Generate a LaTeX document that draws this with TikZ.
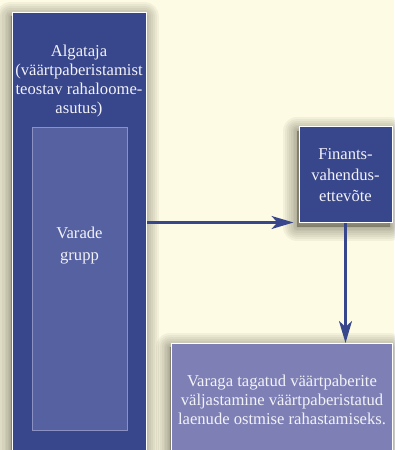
\documentclass[tikz,border=0pt]{standalone}
\usepackage{fontspec}
\setmainfont{Liberation Serif}
\usetikzlibrary{arrows.meta,calc,positioning}
\definecolor{paper}{HTML}{FDFBE3}
\definecolor{navy}{HTML}{38468B}
\definecolor{poolfill}{HTML}{5661A1}
\definecolor{poolline}{HTML}{8C91C3}
\definecolor{resultfill}{HTML}{7E80B5}
\definecolor{inktext}{HTML}{F2F2F8}
\definecolor{shade}{HTML}{4A4838}
\tikzset{
  font=\fontsize{16.6bp}{19bp}\selectfont,
  >={Stealth[length=22bp,width=13bp,inset=6bp]},
  flow/.style={draw=navy, line width=2.4bp, ->},
  halo/.style={preaction={draw=shade, fill=shade, line width=#1,
    line join=round, opacity=.06, transform canvas={shift={(-2bp,-4bp)}}}},
  softshadow/.style={halo=28bp, halo=24bp, halo=20bp, halo=16bp, halo=12bp,
    halo=9bp, halo=6bp, halo=3bp, halo=1bp},
  box/.style={draw=white, line width=1bp, text=inktext, align=center,
    inner sep=0pt},
  darkbox/.style={box, fill=navy, softshadow},
  poolbox/.style={box, draw=poolline, fill=poolfill},
  resultbox/.style={box, fill=resultfill, softshadow},
  boxtext/.style={text=inktext, align=center, inner sep=0pt}
}
\begin{document}
\begin{tikzpicture}[x=1bp,y=1bp]
  \useasboundingbox (0,0) rectangle (394,450);
  \fill[paper] (0,0) rectangle (394,450);

  % originator with the asset pool inside
  \node[darkbox, anchor=north west, minimum width=134bp,
    minimum height=460bp] (originator) at (12,438) {};
  \node[boxtext] (originatorText) at (79,368.5)
    {Algataja\\(väärtpaberistamist\\teostav rahaloome-\\asutus)};
  \node[poolbox, minimum width=95bp, minimum height=302bp] (pool)
    at (79.5,171) {};
  \node[boxtext, font=\fontsize{16.6bp}{22bp}\selectfont] (poolText)
    at (79.5,204) {Varade\\grupp};

  % special purpose vehicle
  \node[darkbox, minimum width=93bp, minimum height=96bp,
    font=\fontsize{16.6bp}{21bp}\selectfont] (finance) at (345.5,275)
    {Finants-\\vahendus-\\ettevõte};

  % issued securities
  \node[resultbox, anchor=north west, minimum width=221bp,
    minimum height=112bp] (result) at (171,107)
    {Varaga tagatud väärtpaberite\\väljastamine väärtpaberistatud\\laenude ostmise rahastamiseks.};

  \draw[flow, shorten >=5bp] ([yshift=1bp]finance.south west -| originator.east)
    -- ([yshift=1bp]finance.south west);
  \draw[flow] (finance.south) -- (finance.south |- result.north);
\end{tikzpicture}
\end{document}
